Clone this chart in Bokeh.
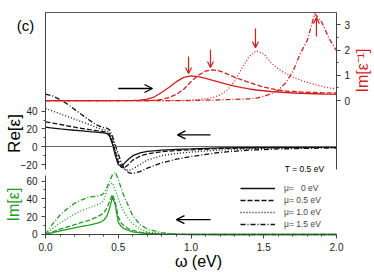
import math
from bokeh.plotting import figure
from bokeh.models import (Range1d, LinearAxis, FixedTicker, Label, Arrow, OpenHead,
                          Legend, LegendItem)
from bokeh.embed import file_html
from bokeh.resources import INLINE

# ---------------- data ----------------
w_low = [0.0, 0.05, 0.1, 0.15, 0.2, 0.25, 0.3, 0.35, 0.38, 0.4, 0.42, 0.44, 0.46, 0.48,
         0.5, 0.52, 0.54, 0.57, 0.6, 0.65, 0.7, 0.8, 0.9, 1.0, 1.2, 1.4, 1.6, 1.8, 2.0]

re_mu0 = [22, 21, 20, 19.3, 18.5, 17.8, 17, 16.5, 16, 15.5, 15, 12, 3, -10,
          -20, -22, -19, -14, -10, -7, -5.2, -3.8, -3, -2.5, -1.3, -0.9, -0.7, -0.5, -0.4]
re_mu05 = [28, 26.5, 25, 23.5, 22, 20.5, 19.3, 18, 17.5, 17, 16.5, 14, 6, -6,
           -17, -23, -24, -20, -15, -10.5, -8, -5.5, -4.3, -3.5, -2, -1.3, -1, -0.8, -0.6]
re_mu10 = [43, 40, 37, 34, 31, 28, 25, 21.5, 20, 19, 18.5, 16, 9, -2,
           -12, -20, -25, -27, -25, -20, -15, -10, -7.5, -6, -3.7, -2.3, -1.6, -1.2, -1]
re_mu15 = [59, 57, 53, 48, 42, 36, 30, 24.5, 22.5, 21.5, 21, 19, 12, 2,
           -8, -17, -24, -29, -30, -28, -24, -18, -14, -11, -6.3, -3.8, -2.5, -1.8, -1.4]

im_mu0 = [0, 2, 4, 5.8, 7.5, 9, 10.5, 12.5, 14, 16, 20, 29, 42, 33,
          14, 9, 6.5, 4.5, 3, 1.8, 1.1, 0.4, 0.1, 0, 0, 0, 0, 0, 0]
im_mu05 = [0, 3, 6, 8.5, 11, 13.5, 16, 19.5, 22, 24, 29, 37, 45, 36,
           20, 13, 9.5, 6.5, 4.5, 2.7, 1.6, 0.6, 0.2, 0, 0, 0, 0, 0, 0]
im_mu10 = [0, 7, 13, 18, 23, 27, 30, 33, 35, 38, 48, 56, 58, 50,
           40, 32, 25, 18, 12, 6, 3, 1, 0.3, 0.1, 0, 0, 0, 0, 0]
im_mu15 = [0, 12, 22, 29, 35, 39, 42, 43, 44, 46, 52, 60, 67, 70,
           62, 52, 43, 32, 21, 11, 6, 2, 0.5, 0.1, 0, 0, 0, 0, 0]

w_loss = [0.0, 0.2, 0.4, 0.6, 0.65, 0.7, 0.75, 0.8, 0.85, 0.9, 0.95, 1.0, 1.05, 1.1, 1.15,
          1.2, 1.25, 1.3, 1.35, 1.4, 1.45, 1.5, 1.55, 1.6, 1.65, 1.7, 1.75, 1.8, 1.85, 1.9,
          1.95, 2.0]
loss_mu0 = [0, 0, 0, 0.01, 0.02, 0.06, 0.15, 0.33, 0.53, 0.75, 0.92, 0.98, 0.95, 0.88, 0.8,
            0.72, 0.64, 0.57, 0.51, 0.46, 0.42, 0.39, 0.36, 0.34, 0.32, 0.3, 0.29, 0.28, 0.27,
            0.26, 0.255, 0.25]
loss_mu05 = [0, 0, 0, 0, 0, 0, 0.02, 0.05, 0.12, 0.25, 0.45, 0.75, 1.0, 1.17, 1.22,
             1.17, 1.05, 0.93, 0.82, 0.72, 0.62, 0.54, 0.47, 0.42, 0.38, 0.36, 0.34, 0.33,
             0.32, 0.31, 0.305, 0.3]
loss_mu10 = [0, 0, 0, 0, 0, 0, 0, 0, 0, 0, 0.01, 0.02, 0.04, 0.07, 0.12,
             0.22, 0.42, 0.78, 1.28, 1.75, 1.98, 1.85, 1.5, 1.25, 1.08, 0.93, 0.82, 0.72,
             0.64, 0.57, 0.5, 0.46]
loss_mu15 = [0, 0, 0, 0, 0, 0, 0, 0, 0, 0, 0, 0, 0.01, 0.015, 0.02,
             0.03, 0.04, 0.05, 0.06, 0.07, 0.1, 0.17, 0.27, 0.42, 0.7, 1.15, 1.85, 2.4,
             3.45, 3.1, 2.45, 1.98]

legend_labels = ["\u03bc=\u00a0\u00a0\u00a00 eV", "\u03bc= 0.5 eV", "\u03bc= 1.0 eV", "\u03bc= 1.5 eV"]
dashes = ["solid", "5 2", "1 2", "5 2 1 2"]

x_ticks = [0.0, 0.5, 1.0, 1.5, 2.0]
x_tick_labels = ["0.0", "0.5", "1.0", "1.5", "2.0"]
x_minor = [0.1, 0.2, 0.3, 0.4, 0.6, 0.7, 0.8, 0.9, 1.1, 1.2, 1.3, 1.4, 1.6, 1.7, 1.8, 1.9]
re_ticks = [-20, 0, 20, 40]
re_minor = [-10, 10, 30]
im_ticks = [0, 20, 40, 60]
im_minor = [10, 30, 50]
loss_ticks = [0, 1, 2, 3]
loss_minor = [0.5, 1.5, 2.5]

# arrows (omega, value) start -> end
red_arrows = [(0.983, 1.75, 0.983, 1.07), (1.134, 2.02, 1.134, 1.31),
              (1.443, 2.86, 1.443, 2.10), (1.862, 2.54, 1.862, 3.29)]
black_arrow_loss = (0.50, 0.48, 0.735, 0.48)
black_arrow_re = (1.134, 13.3, 0.907, 13.3)
black_arrow_im = (1.134, 16.7, 0.90, 16.7)

RED = "#d21f1f"
GREEN = "#259a25"
FONT = "Liberation Sans"
AX = "#444444"

W, H = 374, 272
# the frame covers the whole canvas; axes are pinned with fixed_location
p = figure(width=W, height=H, output_backend="svg", toolbar_location=None, tools="",
           x_range=Range1d(-0.30928, 2.26117), y_range=Range1d(-141.3, 164.3),
           min_border=0, min_border_left=0, min_border_right=0,
           min_border_top=0, min_border_bottom=0)
p.extra_y_ranges = {"im": Range1d(-42.7, 262.9), "inv": Range1d(-6.82, 3.97)}
p.outline_line_color = None
p.xgrid.visible = False
p.ygrid.visible = False

# curves
re_series = [re_mu0, re_mu05, re_mu10, re_mu15]
im_series = [im_mu0, im_mu05, im_mu10, im_mu15]
loss_series = [loss_mu0, loss_mu05, loss_mu10, loss_mu15]

re_renderers = []
for vals, d in zip(re_series, dashes):
    r = p.line(w_low, vals, line_color="#111111", line_width=1.3, line_dash=d)
    re_renderers.append(r)
for vals, d in zip(im_series, dashes):
    p.line(w_low, vals, line_color=GREEN, line_width=1.3, line_dash=d, y_range_name="im")
for vals, d in zip(loss_series, dashes):
    p.line(w_loss, vals, line_color=RED, line_width=1.3, line_dash=d, y_range_name="inv")


def style(ax, color=AX):
    ax.axis_line_color = color
    ax.major_tick_line_color = color
    ax.minor_tick_line_color = color
    ax.major_tick_in = 0
    ax.major_tick_out = 4
    ax.minor_tick_in = 0
    ax.minor_tick_out = 2
    ax.major_label_text_font = FONT
    ax.major_label_text_font_size = "10px"
    ax.major_label_text_color = "#222222"
    ax.major_label_standoff = 4


# left Re axis (also the top-left frame edge)
ya = p.yaxis[0]
ya.fixed_location = 0
ya.ticker = FixedTicker(ticks=re_ticks, minor_ticks=re_minor)
ya.bounds = (-26, 150.8)
style(ya)

# left Im axis
yi = LinearAxis(y_range_name="im", fixed_location=0, bounds=(0, 66),
                ticker=FixedTicker(ticks=im_ticks, minor_ticks=im_minor))
style(yi)
p.add_layout(yi, "left")

# right axis
ra = LinearAxis(y_range_name="inv", fixed_location=2.0, bounds=(-2.74, 3.488),
                ticker=FixedTicker(ticks=loss_ticks, minor_ticks=loss_minor))
style(ra)
p.add_layout(ra, "right")

# bottom axis at Im = 0
xa = p.xaxis[0]
xa.y_range_name = "im"
xa.fixed_location = 0
xa.bounds = (0, 2)
xa.ticker = FixedTicker(ticks=x_ticks, minor_ticks=x_minor)
xa.major_label_overrides = {t: l for t, l in zip(x_ticks, x_tick_labels)}
style(xa)
xa.major_label_standoff = 5

# top frame edge and Re = 0 line (tick-less axes)
for loc, rn, col in [(3.488, "inv", "#555555"), (0, "default", "#666666")]:
    ax = LinearAxis(y_range_name=rn, fixed_location=loc, bounds=(0, 2),
                    ticker=FixedTicker(ticks=[], minor_ticks=[]))
    ax.axis_line_color = col
    ax.major_label_text_font_size = "0px"
    p.add_layout(ax, "above")

# arrows
for (x0, y0, x1, y1) in red_arrows:
    p.add_layout(Arrow(end=OpenHead(size=6, line_color=RED, line_width=1.2),
                       x_start=x0, y_start=y0, x_end=x1, y_end=y1,
                       line_color=RED, line_width=1.2, y_range_name="inv"))
for (x0, y0, x1, y1), rn in [(black_arrow_loss, "inv"), (black_arrow_re, "default"),
                             (black_arrow_im, "im")]:
    p.add_layout(Arrow(end=OpenHead(size=8, line_color="black", line_width=1.3),
                       x_start=x0, y_start=y0, x_end=x1, y_end=y1,
                       line_color="black", line_width=1.3, y_range_name=rn))

# legend
legend = Legend(items=[LegendItem(label=l, renderers=[r]) for l, r in zip(legend_labels, re_renderers)],
                location=(240, 43), padding=0, margin=0, spacing=2, glyph_width=35,
                glyph_height=10, label_height=10, label_standoff=9,
                label_text_font=FONT, label_text_font_size="8.5px",
                background_fill_alpha=0, border_line_color=None)
p.add_layout(legend, "center")


# text labels (screen units from bottom-left of canvas)
def lab(text, x, y, size, color="black", angle=0.0, baseline="middle"):
    p.add_layout(Label(x=x, y=H - y, x_units="screen", y_units="screen", text=text,
                       text_font=FONT, text_font_size=size, text_color=color,
                       angle=angle, text_align="center", text_baseline=baseline))


lab("T = 0.5 eV", 304, 168, "8.5px")
lab("(c)", 25, 25, "15px")
lab("Re[\u03b5]", 14, 133, "17px", angle=math.pi / 2)
lab("Im[\u03b5]", 13, 204, "16px", color=GREEN, angle=math.pi / 2)
lab("Im[\u03b5\u207b\u00b9]", 362, 70, "16px", color=RED, angle=math.pi / 2)
lab("\u03c9 (eV)", 198, 261, "16px")

open("out.html", "w").write(file_html(p, INLINE))
